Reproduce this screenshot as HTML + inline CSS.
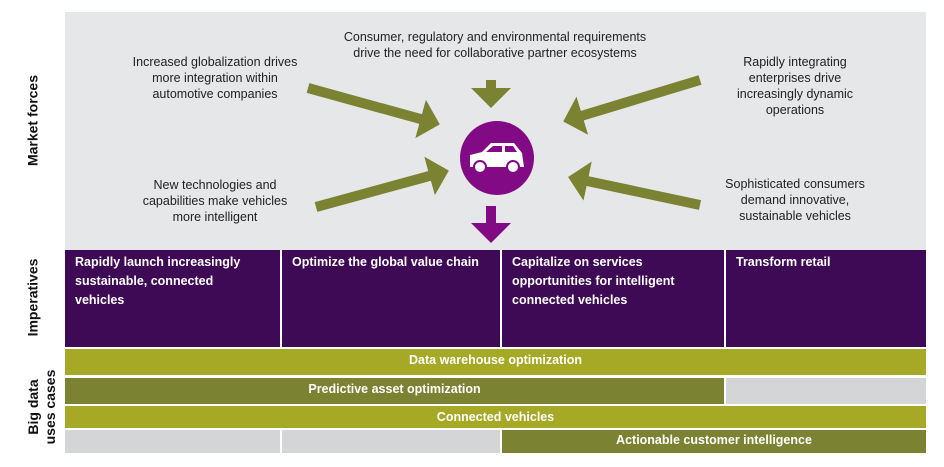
<!DOCTYPE html>
<html><head><meta charset="utf-8"><style>
body{margin:0;width:944px;height:467px;background:#fff;font-family:"Liberation Sans",Arial,sans-serif;position:relative;overflow:hidden}
.a{position:absolute}
.t{font-size:12.5px;color:#222;text-align:center;line-height:16px}
.p{background:#3f0a55;color:#fff;font-weight:bold;font-size:12.5px;line-height:19px;padding:3px 10px;box-sizing:border-box}
.b{color:#fff;font-weight:bold;font-size:12.5px;text-align:center;box-sizing:border-box}
.v{font-weight:bold;font-size:14px;color:#111;transform:rotate(-90deg);transform-origin:center;white-space:nowrap;text-align:center;line-height:17px}
</style></head><body>
<div class="a" style="left:65px;top:12px;width:861px;height:238px;background:#e6e7e9"></div>
<svg class="a" style="left:0;top:0" width="944" height="467">
<defs><marker id="m" markerWidth="4" markerHeight="4" refX="1.5" refY="2" orient="auto" markerUnits="strokeWidth"><path d="M0,0 L2,2 L0,4 Z" fill="#7b8231"/></marker>
<marker id="mp" markerWidth="4" markerHeight="4" refX="1.5" refY="2" orient="auto" markerUnits="strokeWidth"><path d="M0,0 L2,2 L0,4 Z" fill="#820a85"/></marker></defs>
<g stroke="#7b8231" stroke-width="10" marker-end="url(#m)">
<line x1="491" y1="80" x2="491" y2="103"/>
<line x1="308" y1="88" x2="435" y2="123"/>
<line x1="316" y1="207" x2="444" y2="172"/>
<line x1="700" y1="80" x2="568" y2="120"/>
<line x1="700" y1="205" x2="573" y2="178"/>
</g>
<line x1="491" y1="206" x2="491" y2="238" stroke="#820a85" stroke-width="10" marker-end="url(#mp)"/>
<circle cx="497" cy="158" r="37" fill="#820a85"/>
<path d="M470,167 L470,155 L482,152 L491,143 L514,143 L522,153 L524,167 Z" fill="#fff"/>
<path d="M486,152 L493,146 L502,146 L502,152 Z M505,146 L513,146 L517,152 L505,152 Z" fill="#820a85"/>
<circle cx="480" cy="167" r="6" fill="#fff" stroke="#820a85" stroke-width="2"/>
<circle cx="513" cy="167" r="6" fill="#fff" stroke="#820a85" stroke-width="2"/>
</svg>
<div class="a t" style="left:310px;top:29px;width:370px">Consumer, regulatory and environmental requirements<br>drive the need for collaborative partner ecosystems</div>
<div class="a t" style="left:110px;top:54px;width:210px">Increased globalization drives<br>more integration within<br>automotive companies</div>
<div class="a t" style="left:690px;top:54px;width:210px">Rapidly integrating<br>enterprises drive<br>increasingly dynamic<br>operations</div>
<div class="a t" style="left:110px;top:177px;width:210px">New technologies and<br>capabilities make vehicles<br>more intelligent</div>
<div class="a t" style="left:690px;top:176px;width:210px">Sophisticated consumers<br>demand innovative,<br>sustainable vehicles</div>
<div class="a p" style="left:65px;top:250px;width:215px;height:97px">Rapidly launch increasingly<br>sustainable, connected<br>vehicles</div>
<div class="a p" style="left:282px;top:250px;width:218px;height:97px">Optimize the global value chain</div>
<div class="a p" style="left:502px;top:250px;width:222px;height:97px">Capitalize on services<br>opportunities for intelligent<br>connected vehicles</div>
<div class="a p" style="left:726px;top:250px;width:200px;height:97px">Transform retail</div>
<div class="a b" style="left:65px;top:349px;width:861px;height:26px;line-height:22px;background:#a5a925">Data warehouse optimization</div>
<div class="a b" style="left:65px;top:378px;width:659px;height:26px;line-height:22px;background:#7b8231">Predictive asset optimization</div>
<div class="a" style="left:726px;top:378px;width:200px;height:26px;background:#d4d5d7"></div>
<div class="a b" style="left:65px;top:406px;width:861px;height:22px;line-height:22px;background:#a5a925">Connected vehicles</div>
<div class="a" style="left:65px;top:430px;width:215px;height:23px;background:#d4d5d7"></div>
<div class="a" style="left:282px;top:430px;width:218px;height:23px;background:#d4d5d7"></div>
<div class="a b" style="left:502px;top:430px;width:424px;height:23px;line-height:21px;background:#7b8231">Actionable customer intelligence</div>
<div class="a v" style="left:-17px;top:112px;width:100px">Market forces</div>
<div class="a v" style="left:-17px;top:289px;width:100px">Imperatives</div>
<div class="a v" style="left:-3px;top:390px;width:90px">Big data<br>uses cases</div>
</body></html>
